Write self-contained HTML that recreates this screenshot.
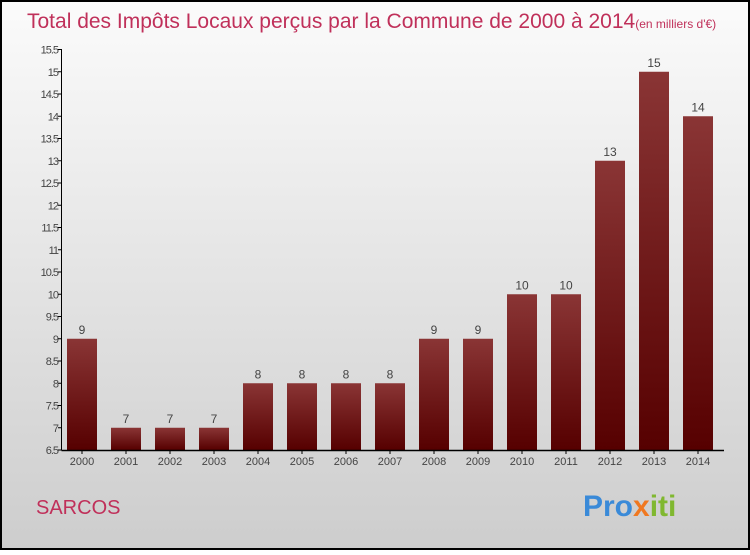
<!DOCTYPE html>
<html><head><meta charset="utf-8"><style>
body{margin:0;width:750px;height:550px;overflow:hidden;font-family:"Liberation Sans",sans-serif}
</style></head><body>
<svg width="750" height="550" id="c" xmlns="http://www.w3.org/2000/svg">
<defs>
<linearGradient id="bg" x1="0" y1="0" x2="0" y2="1"><stop offset="0" stop-color="#fbfbfb"/><stop offset="1" stop-color="#cdcdcd"/></linearGradient>
<linearGradient id="bar" x1="0" y1="0" x2="0" y2="1"><stop offset="0" stop-color="#8a3535"/><stop offset="1" stop-color="#560000"/></linearGradient>
</defs>
<rect x="1" y="1" width="748" height="548" fill="url(#bg)" stroke="#000" stroke-width="2"/>
<text x="27" y="28" font-size="21" fill="#c0305a">Total des Impôts Locaux perçus par la Commune de 2000 à 2014<tspan font-size="12">(en milliers d'€)</tspan></text>
<text x="36" y="514" font-size="20" fill="#c0305a">SARCOS</text>
<text x="583" y="516" font-size="30" font-weight="bold"><tspan fill="#3a8ad8">Pro</tspan><tspan fill="#f07820">x</tspan><tspan fill="#80b830">iti</tspan></text>
<g id="plot"></g>
</svg>
<script>
const years=["2000","2001","2002","2003","2004","2005","2006","2007","2008","2009","2010","2011","2012","2013","2014"];
const values=[9,7,7,7,8,8,8,8,9,9,10,10,13,15,14];
const ticks=[6.5,7,7.5,8,8.5,9,9.5,10,10.5,11,11.5,12,12.5,13,13.5,14,14.5,15,15.5];
const ns="http://www.w3.org/2000/svg";
const g=document.getElementById('plot');
const y=v=>450-(v-6.5)*44.5;
const x=i=>67+i*44;
function mk(t,a,txt){const e=document.createElementNS(ns,t);for(const k in a)e.setAttribute(k,a[k]);if(txt!==undefined)e.textContent=txt;g.appendChild(e);return e;}
values.forEach((v,i)=>{
 const r=mk('rect',{x:x(i),y:y(v),width:30,height:450-y(v),fill:'url(#bar)'});
 
 
 const l=mk('text',{x:x(i)+15,y:y(v)-5,'font-size':12,fill:'#444','text-anchor':'middle'},String(v));
 
 
 const t=mk('text',{x:x(i)+15,y:465,'font-size':11,fill:'#444','text-anchor':'middle'},years[i]);
 
 
 mk('line',{x1:x(i)+15,x2:x(i)+15,y1:450,y2:454,stroke:'#000'});
});
ticks.forEach(v=>{
 const t=mk('text',{x:58,y:y(v)+4,'font-size':11,fill:'#444','text-anchor':'end','letter-spacing':'-1'},String(v));
 
 
 mk('line',{x1:58,x2:62,y1:y(v),y2:y(v),stroke:'#000'});
});
const ya=mk('line',{x1:61.5,x2:61.5,y1:y(15.5),y2:450,stroke:'#000'});


const xa=mk('line',{x1:61.5,x2:724,y1:450.5,y2:450.5,stroke:'#000','stroke-width':1.5});


</script>
</body></html>
